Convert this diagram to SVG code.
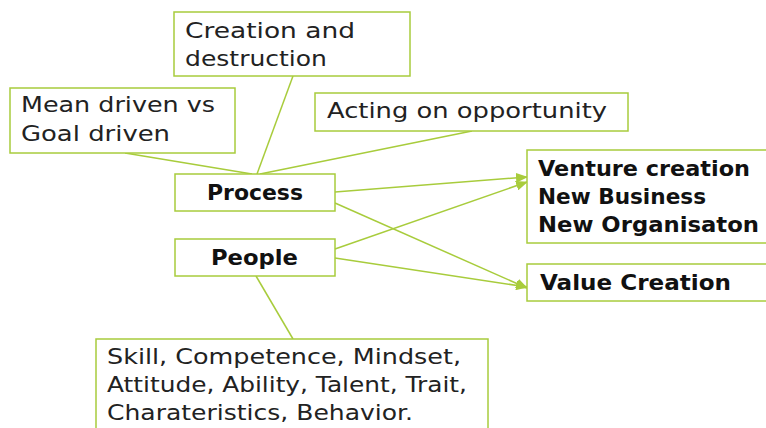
<svg xmlns="http://www.w3.org/2000/svg" width="766" height="428" viewBox="0 0 766 428">
<style>
.box{fill:#fff;stroke:#a8cc3c;stroke-width:1.5}
.t{font-family:"DejaVu Sans",sans-serif;font-size:22px;fill:#222}
.b{font-family:"DejaVu Sans",sans-serif;font-size:21px;font-weight:bold;fill:#111}
.c{stroke:#a8cc3c;stroke-width:1.5;fill:none}
</style>
<defs>
<marker id="ah" markerWidth="12" markerHeight="10" refX="11" refY="5" orient="auto" markerUnits="userSpaceOnUse">
<path d="M0,0 L12,5 L0,10 Z" fill="#a8cc3c"/>
</marker>
</defs>
<rect width="766" height="428" fill="#fff"/>
<g id="connectors">
<line class="c" x1="125" y1="153" x2="252" y2="174"/>
<line class="c" x1="293" y1="76" x2="257" y2="174"/>
<line class="c" x1="472" y1="131" x2="260" y2="174"/>
<line class="c" x1="335" y1="192" x2="527" y2="177" marker-end="url(#ah)"/>
<line class="c" x1="335" y1="203" x2="527" y2="288" marker-end="url(#ah)"/>
<line class="c" x1="335" y1="249" x2="527" y2="182" marker-end="url(#ah)"/>
<line class="c" x1="335" y1="258" x2="527" y2="287" marker-end="url(#ah)"/>
<line class="c" x1="256" y1="276" x2="293" y2="339"/>
</g>
<g id="creation">
<rect class="box" x="174" y="12" width="236" height="64"/>
<text class="t" x="185" y="38" textLength="170" lengthAdjust="spacingAndGlyphs">Creation and</text>
<text class="t" x="185" y="66" textLength="142" lengthAdjust="spacingAndGlyphs">destruction</text>
</g>
<g id="mean">
<rect class="box" x="10" y="88" width="225" height="65"/>
<text class="t" x="21" y="112" textLength="194" lengthAdjust="spacingAndGlyphs">Mean driven vs</text>
<text class="t" x="21" y="141" textLength="149" lengthAdjust="spacingAndGlyphs">Goal driven</text>
</g>
<g id="acting">
<rect class="box" x="315" y="93" width="313" height="38"/>
<text class="t" x="327" y="118" textLength="280" lengthAdjust="spacingAndGlyphs">Acting on opportunity</text>
</g>
<g id="process">
<rect class="box" x="175" y="174" width="160" height="37"/>
<text class="b" x="207" y="200" textLength="96" lengthAdjust="spacingAndGlyphs">Process</text>
</g>
<g id="people">
<rect class="box" x="175" y="239" width="160" height="37"/>
<text class="b" x="211" y="265" textLength="87" lengthAdjust="spacingAndGlyphs">People</text>
</g>
<g id="venture">
<rect class="box" x="527" y="150" width="245" height="93"/>
<text class="b" x="538" y="176" textLength="212" lengthAdjust="spacingAndGlyphs">Venture creation</text>
<text class="b" x="538" y="204" textLength="168" lengthAdjust="spacingAndGlyphs">New Business</text>
<text class="b" x="538" y="232" textLength="221" lengthAdjust="spacingAndGlyphs">New Organisaton</text>
</g>
<g id="value">
<rect class="box" x="527" y="264" width="245" height="37"/>
<text class="b" x="540" y="290" textLength="191" lengthAdjust="spacingAndGlyphs">Value Creation</text>
</g>
<g id="skill">
<rect class="box" x="96" y="339" width="392" height="95"/>
<text class="t" x="107" y="364" textLength="354" lengthAdjust="spacingAndGlyphs">Skill, Competence, Mindset,</text>
<text class="t" x="107" y="392" textLength="360" lengthAdjust="spacingAndGlyphs">Attitude, Ability, Talent, Trait,</text>
<text class="t" x="107" y="420" textLength="306" lengthAdjust="spacingAndGlyphs">Charateristics, Behavior.</text>
</g>
</svg>
